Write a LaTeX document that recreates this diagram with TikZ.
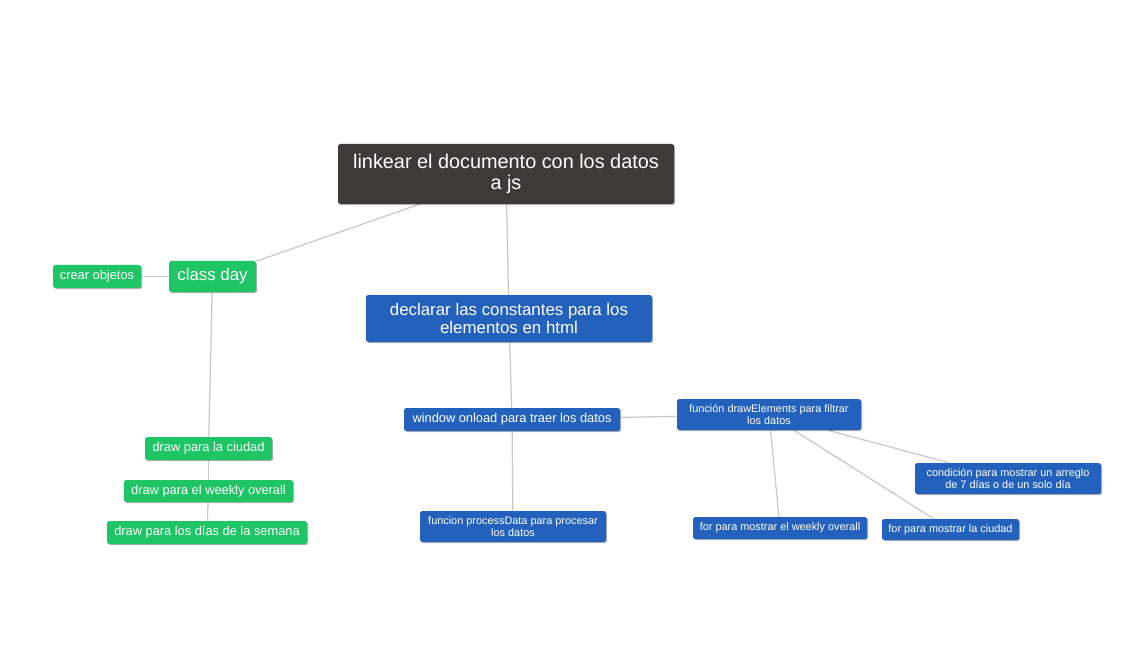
\documentclass[tikz,border=0pt]{standalone}
\usepackage{fontspec}
\setmainfont{Liberation Sans}
\usetikzlibrary{backgrounds,shadows}
\definecolor{rootgray}{HTML}{3E3A39}
\definecolor{mapgreen}{HTML}{1FC565}
\definecolor{mapblue}{HTML}{2461BC}
\definecolor{linkgray}{HTML}{C8C8C8}
\begin{document}
\begin{tikzpicture}[x=0.02cm,y=-0.02cm,
    box/.style={text=white, align=center, inner sep=1pt, rounded corners=1pt,
      drop shadow={shadow xshift=0.6pt, shadow yshift=-0.6pt, opacity=0.3, fill=black}},
    boxsize/.style 2 args={minimum width=#1*0.02cm, minimum height=#2*0.02cm},
    rootbox/.style={box, fill=rootgray, font=\fontsize{11.3}{11.6}\selectfont},
    greenbox/.style={box, fill=mapgreen},
    bluebox/.style={box, fill=mapblue},
    big/.style={font=\fontsize{9.6}{9.8}\selectfont},
    small/.style={font=\fontsize{7.3}{8}\selectfont},
    tiny/.style={font=\fontsize{6.2}{6.8}\selectfont},
    link/.style={draw=linkgray, line width=0.7pt}]
    \useasboundingbox (0,0) rectangle (1144,669);

    % root
    \node[rootbox, boxsize={336}{60}] (root) at (506,174) {linkear el documento con los datos\\a js};

    % green branch
    \node[greenbox, big, boxsize={87}{31}] (classday) at (212.5,276.5) {class day};
    \node[greenbox, small, boxsize={88}{23}] (crear) at (97,276.5) {crear objetos};
    \node[greenbox, small, boxsize={127}{23}] (drawciudad) at (208.5,448.5) {draw para la ciudad};
    \node[greenbox, small, boxsize={169}{22}] (drawweekly) at (208.5,491) {draw para el weekly overall};
    \node[greenbox, small, boxsize={200}{23}] (drawdias) at (207,532.5) {draw para los días de la semana};

    % blue branch
    \node[bluebox, big, boxsize={286}{47}] (declarar) at (509,318.5) {declarar las constantes para los\\elementos en html};
    \node[bluebox, small, boxsize={216}{23}] (onload) at (512,419.5) {window onload para traer los datos};
    \node[bluebox, tiny, boxsize={186}{31}] (process) at (513,526.5) {funcion processData para procesar\\los datos};
    \node[bluebox, tiny, boxsize={184}{31}] (drawel) at (769,414.5) {función drawElements para filtrar\\los datos};
    \node[bluebox, tiny, boxsize={174}{22}] (forweekly) at (780,528) {for para mostrar el weekly overall};
    \node[bluebox, tiny, boxsize={137}{21}] (forciudad) at (950.5,529.5) {for para mostrar la ciudad};
    \node[bluebox, tiny, boxsize={186}{31}] (condicion) at (1008,478.5) {condición para mostrar un arreglo\\de 7 días o de un solo día};

    % links
    \begin{scope}[on background layer]
      \foreach \a/\b in {root/classday, root/declarar, classday/crear, classday/drawciudad,
          drawciudad/drawweekly, drawweekly/drawdias, declarar/onload, onload/process,
          onload/drawel, drawel/forweekly, drawel/forciudad, drawel/condicion}
        \draw[link] (\a) -- (\b);
    \end{scope}
\end{tikzpicture}
\end{document}
